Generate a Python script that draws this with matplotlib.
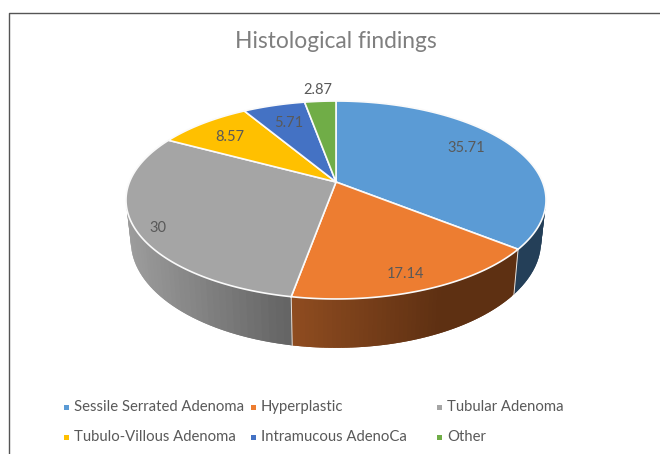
import numpy as np
import matplotlib
matplotlib.use('Agg')
import matplotlib.pyplot as plt
from matplotlib.collections import PolyCollection
from matplotlib.patches import Polygon, Rectangle

plt.rcParams['font.family'] = ['Lato', 'DejaVu Sans']

categories = ['Sessile Serrated Adenoma', 'Hyperplastic', 'Tubular Adenoma',
              'Tubulo-Villous Adenoma', 'Intramucous AdenoCa', 'Other']
values = [35.71, 17.14, 30, 8.57, 5.71, 2.87]
value_labels = ['35.71', '17.14', '30', '8.57', '5.71', '2.87']
colors = ['#5b9bd5', '#ed7d31', '#a5a5a5', '#ffc000', '#4472c4', '#70ad47']

# label centres, in pixels
label_pos = [(466, 148), (406, 274), (158, 228), (230, 137), (289, 123), (318, 90)]

# perspective of the disc, fitted on the reference
cx, cy = 336, 182
A, B, k = 206.5, 95.7, 0.1818
depth = 40
shrink = 0.977
text_color = '#595959'


def top_point(theta):
    u, v = np.sin(theta), np.cos(theta)
    w = 1 + k * v
    return cx + A * u / w, cy - B * v / w


def bottom_point(theta):
    u, v = np.sin(theta), np.cos(theta)
    w = 1 + k * v
    return cx + shrink * A * u / w, cy - B * v / w + depth / w


def side_color(i, x):
    if i == 0:
        return (0x24 / 255, 0x3f / 255, 0x58 / 255)
    if i == 1:
        r = np.interp(x, [291, 440], [0x8f, 0x5e])
        g = np.interp(x, [291, 440], [0x4c, 0x30])
        b = np.interp(x, [291, 440], [0x20, 0x12])
        return (r / 255, g / 255, b / 255)
    if i == 2:
        g = np.interp(x, [130, 291], [0x9c, 0x64])
        return (g / 255, g / 255, g / 255)
    return (0.4, 0.4, 0.4)


fig = plt.figure(figsize=(6.6, 4.54), dpi=100)
ax = fig.add_axes([0, 0, 1, 1])
ax.set_xlim(0, 660)
ax.set_ylim(454, 0)
ax.axis('off')

# frame, only top and left are inside the crop
ax.plot([8.5, 8.5, 660], [454, 12.5, 12.5], color='#555555', lw=1.0)

fractions = np.cumsum([0] + values) / np.sum(values)
angles = fractions * 2 * np.pi

# sides first, each strip overlaps the next one so no seams show
for i in range(3):
    th = np.linspace(angles[i], angles[i + 1], 60)
    if i == 2:
        th = th[::-1]
    for j in range(len(th) - 1):
        end = th[min(j + 2, len(th) - 1)]
        p1, p2 = top_point(th[j]), top_point(end)
        p3, p4 = bottom_point(end), bottom_point(th[j])
        col = side_color(i, (p1[0] + p2[0]) / 2)
        ax.add_collection(PolyCollection([[p1, p2, p3, p4]], facecolors=[col], edgecolors='none'))
    # seam between two slices on the rim
    if i < 2:
        p, q = top_point(angles[i + 1]), bottom_point(angles[i + 1])
        ax.plot([p[0], q[0]], [p[1], q[1]], color='#e8e0da', lw=0.7, zorder=3)

# top of the pie
for i in range(len(values)):
    th = np.linspace(angles[i], angles[i + 1], 120)
    xs, ys = top_point(th)
    pts = np.column_stack([np.r_[cx, xs], np.r_[cy, ys]])
    ax.add_patch(Polygon(pts, closed=True, facecolor=colors[i], edgecolor='#fafafa', lw=1.2, zorder=4))

for txt, (x, y) in zip(value_labels, label_pos):
    ax.text(x, y, txt, color=text_color, fontsize=10.5, ha='center', va='center', zorder=5)

ax.text(336, 42, 'Histological findings', color='#7f7f7f', fontsize=16.4, ha='center', va='center')

# legend
col_x = [66, 253, 439]
row_y = [407, 437]
for i, name in enumerate(categories):
    x = col_x[i % 3]
    y = row_y[i // 3]
    ax.add_patch(Rectangle((x - 2.5, y - 2.5), 5, 5, facecolor=colors[i], edgecolor='none'))
    ax.text(x + 8, y, name, color=text_color, fontsize=10.7, ha='left', va='center')

fig.savefig('out.png', dpi=100)
